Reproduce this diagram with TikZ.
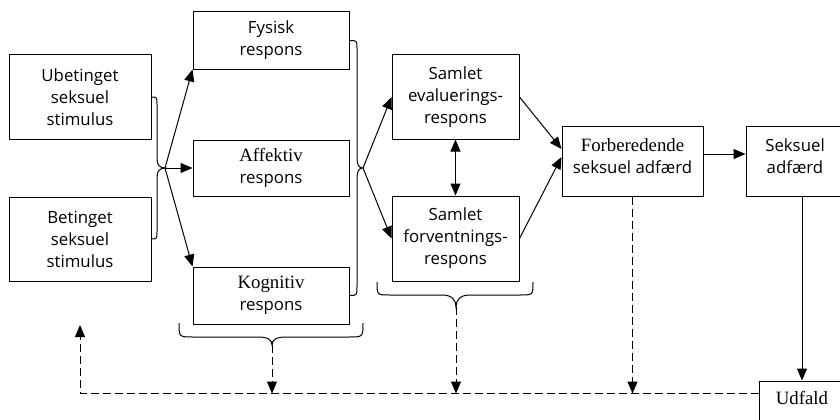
\documentclass[tikz,border=0pt]{standalone}
\usepackage{fontspec}
\setmainfont{Open Sans}
\newfontfamily\serf{Liberation Serif}
\usetikzlibrary{arrows.meta,calc}
\newcommand\sz{\fontsize{16.8}{22}\selectfont}
\newcommand\sr{\serf\fontsize{18.8}{22}\selectfont}
\begin{document}
\begin{tikzpicture}[x=1pt,y=-1pt,
  box/.style={draw,line width=1pt,inner sep=0pt,align=center,font=\sz},
  txt/.style={inner sep=0pt,align=center,font=\sz},
  arr/.style={line width=1pt,-{Triangle[length=12pt,width=10pt]}},
  arrtwo/.style={line width=1pt,{Triangle[length=12pt,width=10pt]}-{Triangle[length=12pt,width=10pt]}},
  dsh/.style={dash pattern=on 8pt off 4pt},
  brc/.style={line width=1pt}]
\path[use as bounding box] (0,0) rectangle (840,420);
\clip (0,0) rectangle (840,420);
\fill[white] (0,0) rectangle (840,420);
% boxes
\node[box,minimum width=142pt,minimum height=84pt] (U) at (80,97) {Ubetinget\\seksuel\\stimulus};
\node[box,minimum width=142pt,minimum height=84pt] (B) at (80,239) {Betinget\\seksuel\\stimulus};
\node[box,minimum width=156pt,minimum height=57pt] (F) at (271,40.5) {Fysisk\\respons};
\node[box,minimum width=156pt,minimum height=56pt] (A) at (271,168) {{\sr Affektiv}\\respons};
\node[box,minimum width=156pt,minimum height=57pt] (K) at (271,295.5) {{\sr Kognitiv}\\respons};
\node[box,minimum width=127pt,minimum height=84pt] (E) at (455.5,97) {Samlet\\evaluerings-\\respons};
\node[box,minimum width=127pt,minimum height=85pt] (V) at (455.5,238.5) {Samlet\\forventnings-\\respons};
\node[box,minimum width=141pt,minimum height=70pt] (P) at (632.5,161) {};
\node[txt] (Pt) at (632.5,156) {{\sr Forberedende}\\seksuel adfærd};
\node[box,minimum width=99pt,minimum height=70pt] (S) at (795.5,161) {};
\node[txt] (St) at (795,156) {Seksuel\\adfærd};
\node[box,minimum width=86pt,minimum height=46pt] (D) at (802,404) {};
\node[txt] (Dt) at (802,398) {\sr Udfald};
% brace tips
\coordinate (t1) at (165,168);
\coordinate (t2) at (363,168);
\coordinate (t3) at (272,345);
\coordinate (t4) at (456,307);
\coordinate (fb) at (80,325);
\coordinate (Dw) at ($(D.north west)+(0,13)$);
% braces
\draw[brc] (U.east) .. controls (157,97) .. (157,105) -- (157,159)
  .. controls (157,165) and (160,168) .. (t1)
  .. controls (160,168) and (157,171) .. (157,177) -- (157,231)
  .. controls (157,239) .. (B.east);
\draw[brc] (F.east) .. controls (357,40.5) .. (357,49) -- (357,158)
  .. controls (357,165) and (359,168) .. (t2)
  .. controls (359,168) and (357,171) .. (357,178) -- (357,286)
  .. controls (357,295.5) .. (K.east);
\draw[brc] (179,323) .. controls (179,337) .. (193,337) -- (258,337)
  .. controls (268,337) and (272,340) .. (t3)
  .. controls (272,340) and (276,337) .. (286,337) -- (349,337)
  .. controls (363,337) .. (363,323);
\draw[brc] (377,282) .. controls (377,295) .. (390,295) -- (442,295)
  .. controls (452,295) and (456,300) .. (t4)
  .. controls (456,300) and (460,295) .. (470,295) -- (520,295)
  .. controls (533,295) .. (533,282);
% arrows
\draw[arr] (t1) -- (F.south west);
\draw[arr] (t1) -- (A.west);
\draw[arr] (t1) -- (K.north west);
\draw[arr] (t2) -- (E.west);
\draw[arr] (t2) -- (V.west);
\draw[arrtwo] (E.south) -- (V.north);
\draw[arr] (E.east) -- ($(P.west)+(0,-12)$);
\draw[arr] (V.east) -- ($(P.west)+(0,-4)$);
\draw[arr] ($(P.east)+(0,-7)$) -- ($(S.west)+(0,-7)$);
\draw[arr] (S.south -| D.north) -- (D.north);
\draw[arr,dsh] (t3) -- (t3 |- Dw);
\draw[arr,dsh] (t4) -- (t4 |- Dw);
\draw[arr,dsh] (P.south) -- (P.south |- Dw);
\draw[arr,dsh] (Dw) -| (fb);
\end{tikzpicture}
\end{document}
